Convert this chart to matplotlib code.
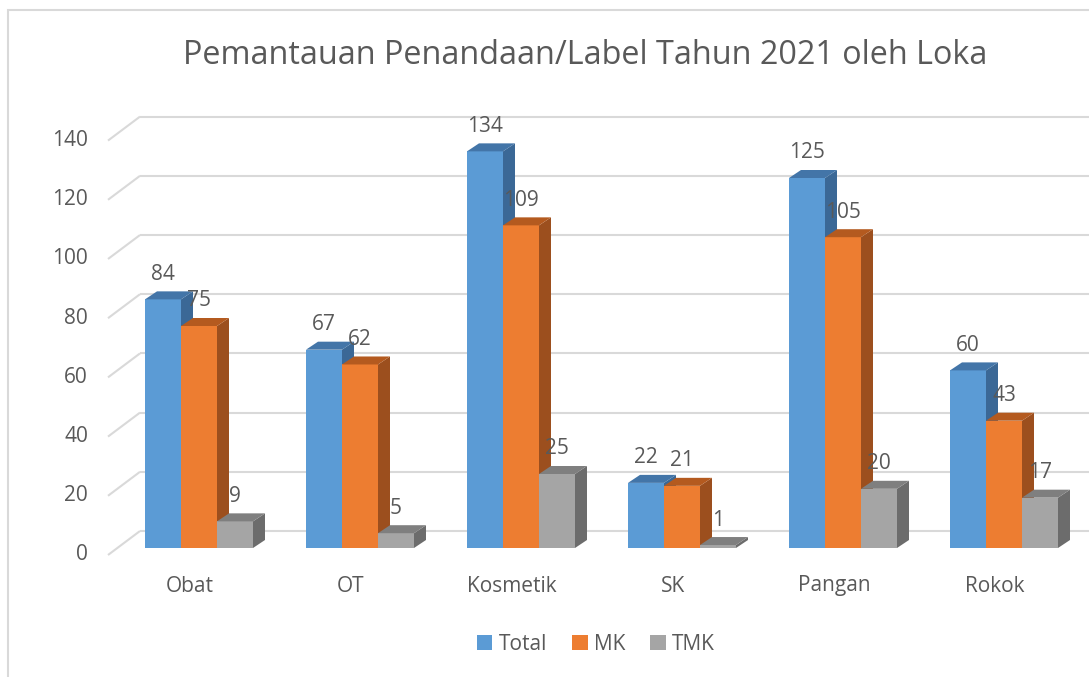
import numpy as np
import matplotlib
matplotlib.use('Agg')
import matplotlib.pyplot as plt
from matplotlib.patches import Rectangle, Polygon, Patch

plt.rcParams['font.family'] = ['Open Sans', 'DejaVu Sans']

categories = ['Obat', 'OT', 'Kosmetik', 'SK', 'Pangan', 'Rokok']
series_names = ['Total', 'MK', 'TMK']
total = [84, 67, 134, 22, 125, 60]
mk = [75, 62, 109, 21, 105, 43]
tmk = [9, 5, 25, 1, 20, 17]
y_ticks = [0, 20, 40, 60, 80, 100, 120, 140]
title = 'Pemantauan Penandaan/Label Tahun 2021 oleh Loka'

values = [total, mk, tmk]
front_cols = ['#5B9BD5', '#ED7D31', '#A5A5A5']
top_cols = ['#4375A8', '#B45A1F', '#7F7F7F']
side_cols = ['#3B6896', '#9C4F1E', '#6C6C6C']
txt = '#595959'

W, H = 1089, 677
fig = plt.figure(figsize=(W / 100, H / 100), dpi=100)
ax = fig.add_axes([0, 0, 1, 1])
# pixel scale: 161 px per category, 2.96 px per unit
px_x = 161.0
px_y = 2.96
ax.set_xlim(-199 / px_x, (W - 199) / px_x)
ax.set_ylim(-129 / px_y, (H - 129) / px_y)
ax.axis('off')

# chart border (cut on the right/bottom like the reference)
fig.patches.append(Rectangle((8 / W, -0.1), 1.2, 1.1 - 10 / H,
                             transform=fig.transFigure, fill=False,
                             edgecolor='#D9D9D9', linewidth=1.5))

# gridlines: back wall + left side diagonal
gx_front = (108 - 199) / px_x
gx_back = (140 - 199) / px_x
g_front_dy = -7 / px_y
g_back_dy = 17 / px_y
for v in y_ticks:
    ax.plot([gx_front, gx_back], [v + g_front_dy, v + g_back_dy],
            color='#D9D9D9', lw=1.5, zorder=1, solid_capstyle='butt')
    ax.plot([gx_back, 10], [v + g_back_dy, v + g_back_dy],
            color='#D9D9D9', lw=1.5, zorder=1, solid_capstyle='butt')
    ax.text((88 - 199) / px_x, v + g_front_dy, str(v), ha='right',
            va='center', fontsize=15, color=txt)

# bars
bw = 36 / px_x
dx = 12 / px_x
dy = 8 / px_y
z = 2
for i in range(len(categories)):
    for j in range(3):
        v = values[j][i]
        x0 = i - 1.5 * bw + j * bw
        ax.add_patch(Rectangle((x0, 0), bw, v, facecolor=front_cols[j],
                               edgecolor='none', zorder=z))
        ax.add_patch(Polygon([(x0 + bw, 0), (x0 + bw + dx, dy),
                              (x0 + bw + dx, v + dy), (x0 + bw, v)],
                             closed=True, facecolor=side_cols[j],
                             edgecolor='none', zorder=z))
        ax.add_patch(Polygon([(x0, v), (x0 + dx, v + dy),
                              (x0 + bw + dx, v + dy), (x0 + bw, v)],
                             closed=True, facecolor=top_cols[j],
                             edgecolor='none', zorder=z))
        z += 1
        ax.text(x0 + bw / 2, v + 25 / px_y, str(v), ha='center',
                va='center', fontsize=15, color=txt, zorder=50)
    ax.text(i - 9 / px_x, -38 / px_y, categories[i], ha='center',
            va='center', fontsize=15, color=txt)

fig.text(585 / W, 1 - 55 / H, title, ha='center', va='center',
         fontsize=23.3, color=txt)

handles = [Patch(facecolor=c, edgecolor='none') for c in front_cols]
fig.legend(handles, series_names, loc='center', bbox_to_anchor=(596 / W, 1 - 644 / H),
           ncol=3, frameon=False, fontsize=15, handlelength=0.75,
           handleheight=0.75, handletextpad=0.3, columnspacing=1.2,
           labelcolor=txt)

fig.savefig('out.png', dpi=100)
